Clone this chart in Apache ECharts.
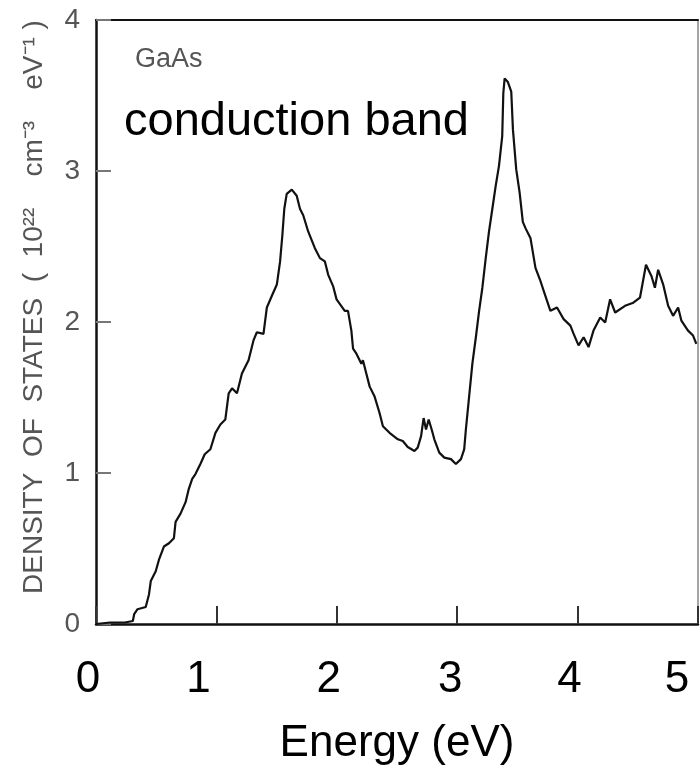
<!DOCTYPE html>
<html><head><meta charset="utf-8">
<script src="https://cdn.jsdelivr.net/npm/echarts@6/dist/echarts.min.js"></script>
<style>html,body{margin:0;padding:0;background:#fff}#c{width:700px;height:771px}</style>
</head><body><div id="c"></div>
<script>
// Energy (eV)
const energy = [0.00,0.116,0.24,0.306,0.317,0.345,0.413,0.440,0.455,0.496,0.523,0.564,0.606,0.647,0.661,0.702,0.744,0.771,0.799,0.826,
0.868,0.903,0.950,0.992,1.033,1.074,1.102,1.130,1.171,1.212,1.267,1.308,1.336,1.391,1.419,1.460,1.502,1.529,1.548,1.564,
1.584,1.626,1.667,1.694,1.721,1.763,1.818,1.860,1.901,1.928,1.969,1.998,2.011,2.066,2.093,2.121,2.135,2.163,2.204,2.217,
2.245,2.273,2.314,2.355,2.383,2.438,2.507,2.548,2.589,2.645,2.672,2.700,2.721,2.741,2.763,2.788,2.810,2.851,2.893,2.948,
2.989,3.031,3.058,3.072,3.099,3.126,3.155,3.182,3.209,3.237,3.264,3.292,3.320,3.347,3.374,3.383,3.394,3.421,3.449,3.463,
3.490,3.518,3.545,3.568,3.609,3.650,3.692,3.733,3.774,3.829,3.884,3.940,3.967,4.008,4.050,4.091,4.132,4.188,4.229,4.270,
4.312,4.394,4.463,4.518,4.568,4.614,4.642,4.669,4.711,4.752,4.793,4.835,4.862,4.917,4.959,4.986];
// Density of states (10^22 cm^-3 eV^-1)
const dos = [0.00,0.01,0.01,0.02,0.065,0.098,0.113,0.196,0.284,0.349,0.426,0.513,0.535,0.568,0.676,0.731,0.807,0.895,0.961,0.993,
1.061,1.124,1.157,1.266,1.321,1.354,1.528,1.561,1.528,1.659,1.747,1.878,1.932,1.921,2.096,2.172,2.248,2.401,2.576,2.750,
2.849,2.877,2.836,2.750,2.707,2.598,2.489,2.423,2.401,2.314,2.238,2.150,2.140,2.074,2.074,1.943,1.823,1.790,1.724,1.747,
1.659,1.572,1.506,1.397,1.310,1.266,1.223,1.212,1.172,1.146,1.168,1.244,1.364,1.288,1.354,1.288,1.223,1.135,1.102,1.092,
1.059,1.092,1.157,1.288,1.506,1.724,1.899,2.074,2.227,2.423,2.598,2.750,2.903,3.034,3.231,3.515,3.613,3.589,3.525,3.274,
3.012,2.860,2.663,2.620,2.554,2.358,2.270,2.172,2.074,2.096,2.019,1.976,1.921,1.845,1.899,1.834,1.943,2.030,1.997,2.150,
2.063,2.107,2.128,2.161,2.379,2.303,2.227,2.346,2.248,2.107,2.041,2.096,2.009,1.943,1.910,1.855];
const xTickValues = [0, 1, 2, 3, 4, 5];
const yTickValues = [0, 1, 2, 3, 4];
const xTitle = 'Energy (eV)';
const yTitle = 'DENSITY  OF  STATES  (  10²²    cm⁻³    eV⁻¹ )';
const materialLabel = 'GaAs';
const bandLabel = 'conduction band';

const points = energy.map((e, i) => [e, dos[i]]);
const shiftPad = {0: 16, 1: 36, 2: 16, 3: 14, 4: 16, 5: 42};
const rich = {};
xTickValues.forEach(v => {
  rich['l' + v] = {fontSize: 44, fontFamily: '"Liberation Sans", Arial, sans-serif', color: '#000',
    padding: [0, shiftPad[v] || 0, 0, 0]};
});
const scanFont = '"Liberation Sans", Arial, sans-serif';

const chart = echarts.init(document.getElementById('c'), null, {renderer: 'canvas'});
chart.setOption({
  animation: false,
  backgroundColor: '#fff',
  grid: {left: 96, right: 2, top: 20, bottom: 141, containLabel: false},
  xAxis: [{
    type: 'value', min: xTickValues[0], max: xTickValues[xTickValues.length - 1], interval: 1,
    position: 'bottom',
    name: xTitle, nameLocation: 'middle', nameGap: 98,
    nameTextStyle: {fontSize: 44, fontFamily: '"Liberation Sans", Arial, sans-serif', color: '#000'},
    axisLine: {show: true, lineStyle: {color: '#111', width: 2.5}},
    axisTick: {show: true, inside: true, length: 18, lineStyle: {color: '#333', width: 2}},
    axisLabel: {margin: 34, formatter: v => '{l' + v + '|' + v + '}', rich: rich},
    splitLine: {show: false}
  }, {
    type: 'value', min: 0, max: 5, position: 'top',
    axisLine: {show: true, onZero: false, lineStyle: {color: '#111', width: 2}},
    axisTick: {show: false}, axisLabel: {show: false}, splitLine: {show: false}
  }],
  yAxis: [{
    type: 'value', min: yTickValues[0], max: yTickValues[yTickValues.length - 1], interval: 1,
    name: yTitle, nameLocation: 'middle', nameGap: 48, nameRotate: 90,
    nameTextStyle: {fontSize: 28, fontFamily: scanFont, color: '#555', padding: [0, 0, 0, 30]},
    axisLine: {show: true, lineStyle: {color: '#111', width: 2.5}},
    axisTick: {show: true, inside: true, length: 15, lineStyle: {color: '#777', width: 2}},
    axisLabel: {margin: 16, fontSize: 28, fontFamily: scanFont, color: '#555'},
    splitLine: {show: false}
  }, {
    type: 'value', min: 0, max: 4, position: 'right',
    axisLine: {show: true, onZero: false, lineStyle: {color: '#888', width: 1.5}},
    axisTick: {show: false}, axisLabel: {show: false}, splitLine: {show: false}
  }],
  series: [{
    type: 'line', xAxisIndex: 0, yAxisIndex: 0, data: points,
    showSymbol: false, symbol: 'none', smooth: false,
    lineStyle: {color: '#111', width: 2.2}
  }],
  graphic: [{
    type: 'text', left: 135, top: 46,
    style: {text: materialLabel, fontSize: 27, fontFamily: scanFont, fill: '#555'}
  }, {
    type: 'text', left: 124, top: 99,
    style: {text: bandLabel, fontSize: 47, fontFamily: '"Liberation Sans", Arial, sans-serif', fill: '#000'}
  }]
});
</script>
</body></html>
